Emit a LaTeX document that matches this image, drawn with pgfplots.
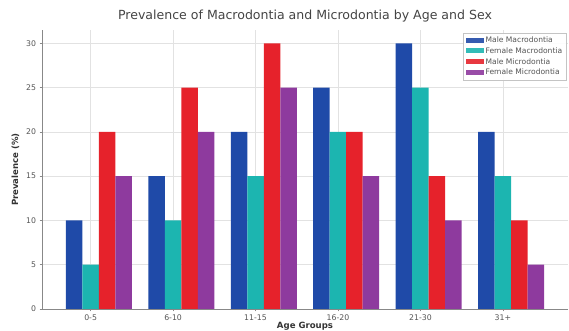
\documentclass[border=0pt]{standalone}
\usepackage{pgfplots}
\pgfplotsset{compat=1.18}
\usepackage{fontspec}
\setmainfont{DejaVu Sans}
\definecolor{cBlue}{HTML}{1F4AA8}
\definecolor{cTeal}{HTML}{1CB5B0}
\definecolor{cRed}{HTML}{E6222B}
\definecolor{cPurple}{HTML}{8E3A9E}
\definecolor{cGrid}{HTML}{E2E2E2}
\definecolor{cSpine}{HTML}{888888}
\definecolor{cText}{HTML}{555555}
\begin{document}
\begin{tikzpicture}
\path[use as bounding box] (-42bp,-22bp) rectangle (527bp,309bp);
\begin{axis}[
  at={(0,0)}, anchor=south west,
  scale only axis, width=526bp, height=279bp,
  ybar, bar width=0.2,
  xmin=-0.59, xmax=5.79, ymin=0, ymax=31.5,
  xtick={0,1,2,3,4,5},
  xticklabels={0-5,6-10,11-15,16-20,21-30,31+},
  ytick={0,5,10,15,20,25,30},
  axis x line*=bottom, axis y line*=left,
  axis line style={cSpine, line width=0.6pt, -},
  tick style={cSpine, line width=0.5pt},
  tick align=outside, major tick length=2.5pt,
  grid=major, major grid style={cGrid, line width=0.6pt},
  ticklabel style={font=\fontsize{7.8}{9}\selectfont, text=cText},
  /pgf/number format/assume math mode=true,
  title={Prevalence of Macrodontia and Microdontia by Age and Sex},
  title style={font=\fontsize{12.6}{14}\selectfont, text=cText!80!black, at={(0.5,1)}, anchor=base, yshift=5bp},
  xlabel={\bfseries Age Groups},
  ylabel={\bfseries Prevalence (\%)},
  xlabel style={font=\fontsize{8.6}{10}\selectfont, text=black!80, yshift=6bp},
  ylabel style={font=\fontsize{8.6}{10}\selectfont, text=black!80, yshift=0bp},
  legend style={at={(0.997,0.99)}, anchor=north east, font=\fontsize{7.6}{8.5}\selectfont, text=cText,
    draw=cGrid!70!gray, fill=white, fill opacity=0.9, text opacity=1, inner sep=2pt, row sep=-0.5pt},
  legend cell align=left,
  legend image code/.code={\fill[#1] (0pt,-2pt) rectangle (18pt,3pt);},
]
\addplot[bar shift=-0.2, fill=cBlue, draw=none] coordinates {(0,10) (1,15) (2,20) (3,25) (4,30) (5,20)};
\addplot[bar shift=0, fill=cTeal, draw=none] coordinates {(0,5) (1,10) (2,15) (3,20) (4,25) (5,15)};
\addplot[bar shift=0.2, fill=cRed, draw=none] coordinates {(0,20) (1,25) (2,30) (3,20) (4,15) (5,10)};
\addplot[bar shift=0.4, fill=cPurple, draw=none] coordinates {(0,15) (1,20) (2,25) (3,15) (4,10) (5,5)};
\legend{Male Macrodontia, Female Macrodontia, Male Microdontia, Female Microdontia}
\end{axis}
\end{tikzpicture}
\end{document}
